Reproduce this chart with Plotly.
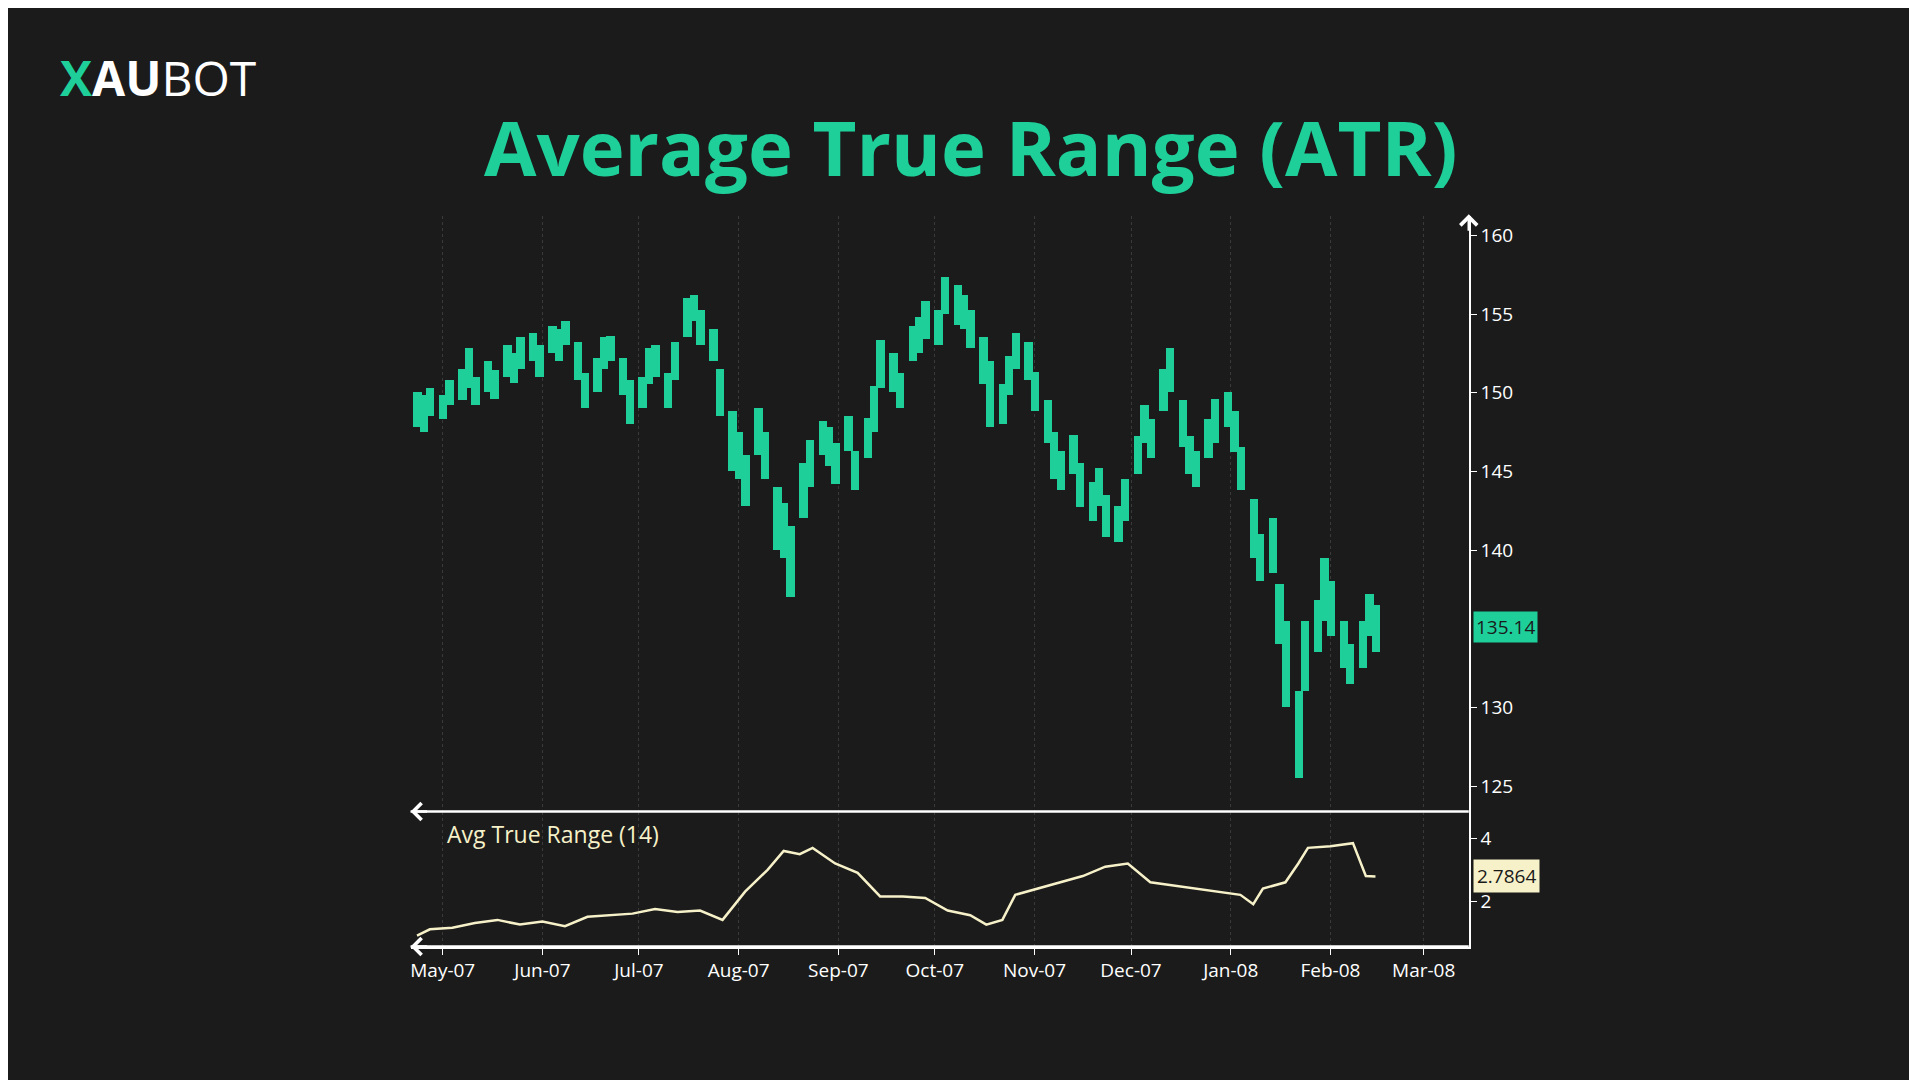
import pandas as pd
import plotly.graph_objects as go

lows = [147.8,147.5,148.5,
 148.3,149.2,149.5,150.3,149.2,150,149.6,151,150.6,151.5,152,
 151,152.5,152,153,150.8,149,150,151.5,152,149.8,
 148,149,150.5,151,149,150.8,153.5,154.5,153,152,148.5,
 145,144.5,142.8,146,144.5,140,139.5,137,142,144,146,145.3,
 144.2,146.3,143.8,145.8,147.5,150.3,150,149,152,152.5,
 153.4,153,155,154.3,154,152.8,150.5,147.8,148,149.8,151.5,150.8,
 148.8,146.8,144.5,143.8,144.8,142.7,141.8,142.8,140.8,140.5,141.8,
 144.8,146.8,145.8,148.8,150,146.5,144.8,144,145.8,146.8,
 147.8,146.2,143.8,139.5,138,138.5,134,130,125.5,131,133.5,
 135.5,134.5,132.5,131.5,132.5,134.5,133.5]
highs = [150,149.8,150.3,
 149.8,150.8,151.5,152.8,151,152,151.4,153,152.5,153.5,153.8,
 153,154.2,154,154.5,153.2,151.2,152.2,153.5,153.6,152.2,
 150.8,151,152.8,153,151.2,153.2,156,156.2,155.2,154,151.5,
 148.8,147.5,146,149,147.5,144,143,141.5,145.5,147,148.2,147.8,
 146.8,148.5,146.3,148.4,150.4,153.3,152.5,151.2,154.2,154.8,
 155.8,155.2,157.3,156.8,156.2,155.2,153.5,152,150.5,152.3,153.8,153.2,
 151.3,149.5,147.5,146.3,147.3,145.5,144.3,145.2,143.5,142.8,144.5,
 147.2,149.2,148.3,151.5,152.8,149.5,147.2,146.3,148.3,149.6,
 150,148.8,146.5,143.2,141,142,137.8,135.5,131,135.5,136.8,
 139.5,138,135.5,134,135.5,137.2,136.5]
last_price = 135.14

atr_dates = ["2007-04-23","2007-04-27","2007-05-04","2007-05-11","2007-05-18","2007-05-25",
 "2007-06-01","2007-06-08","2007-06-15","2007-06-22","2007-06-29","2007-07-06","2007-07-13",
 "2007-07-20","2007-07-27","2007-08-03","2007-08-10","2007-08-15","2007-08-20","2007-08-24",
 "2007-08-31","2007-09-07","2007-09-14","2007-09-21","2007-09-28","2007-10-05","2007-10-12",
 "2007-10-17","2007-10-22","2007-10-26","2007-11-02","2007-11-09","2007-11-16","2007-11-23",
 "2007-11-30","2007-12-07","2007-12-14","2007-12-21","2007-12-28","2008-01-04","2008-01-08",
 "2008-01-11","2008-01-18","2008-01-22","2008-01-25","2008-02-01","2008-02-08","2008-02-12","2008-02-15"]
atr_vals = [0.9,1.1,1.15,1.3,1.4,1.25,1.35,1.2,1.5,1.55,1.6,1.75,1.65,1.7,1.4,2.3,3.0,3.6,3.5,3.7,
 3.2,2.9,2.15,2.15,2.1,1.7,1.55,1.25,1.4,2.2,2.4,2.6,2.8,3.1,3.2,2.6,2.5,2.4,2.3,2.2,1.9,
 2.4,2.6,3.2,3.7,3.75,3.85,2.8,2.7864]

price_ticks = [125, 130, 140, 145, 150, 155, 160]
month_ticks = ["2007-05-01","2007-06-01","2007-07-01","2007-08-01","2007-09-01","2007-10-01",
 "2007-11-01","2007-12-01","2008-01-01","2008-02-01","2008-03-01"]
month_labels = ["May-07","Jun-07","Jul-07","Aug-07","Sep-07","Oct-07","Nov-07","Dec-07","Jan-08","Feb-08","Mar-08"]

dates = pd.bdate_range("2007-04-23", periods=len(lows), freq="2B")
GREEN = "#1ecf9a"
CREAM = "#f6f1c8"

fig = go.Figure()
fig.add_trace(go.Bar(x=dates, base=lows, y=[h - l for h, l in zip(highs, lows)],
                     marker=dict(color=GREEN, line=dict(width=0)), width=2.6 * 86400000,
                     xaxis="x", yaxis="y", showlegend=False))
fig.add_trace(go.Scatter(x=pd.to_datetime(atr_dates), y=atr_vals, mode="lines",
                         line=dict(color=CREAM, width=2.5), xaxis="x2", yaxis="y2", showlegend=False))

xr = ["2007-04-21", "2008-03-15"]
fnt = dict(family="Open Sans", size=19, color="white")
fig.update_layout(
    width=1917, height=1080, margin=dict(l=0, r=0, t=0, b=0),
    paper_bgcolor="#1b1b1b", plot_bgcolor="rgba(0,0,0,0)", bargap=0,
    font=fnt,
    xaxis=dict(domain=[0.21, 0.762], range=xr, anchor="y", showticklabels=False,
               tickvals=month_ticks, showgrid=True, gridcolor="#3a3a3a", griddash="dot",
               zeroline=False, showline=False),
    yaxis=dict(domain=[0.256, 0.807], range=[123.4, 161.2], side="right", anchor="x",
               tickvals=price_ticks, ticks="outside", ticklen=6,
               tickcolor="white", showline=True, linecolor="white", linewidth=2,
               showgrid=False, zeroline=False, tickfont=fnt),
    xaxis2=dict(domain=[0.21, 0.762], range=xr, anchor="y2", tickvals=month_ticks,
                ticktext=month_labels, ticks="outside", ticklen=6, tickcolor="white",
                showline=True, linecolor="white", linewidth=2, showgrid=True,
                gridcolor="#3a3a3a", griddash="dot", zeroline=False, tickfont=fnt),
    yaxis2=dict(domain=[0.131, 0.256], range=[0.55, 4.86], side="right", anchor="x2",
                tickvals=[2, 4], ticks="outside", ticklen=6, tickcolor="white",
                showline=True, linecolor="white", linewidth=2, showgrid=False,
                zeroline=False, tickfont=fnt),
)
fig.add_shape(type="line", xref="paper", yref="paper", x0=0.21, x1=0.762, y0=0.256, y1=0.256,
              line=dict(color="white", width=2.5))
fig.add_shape(type="line", xref="paper", yref="paper", x0=0.21, x1=0.762, y0=0.131, y1=0.131,
              line=dict(color="white", width=2.5))
for (x, y, ax, ay) in [(0.21, 0.256, 18, 0), (0.21, 0.131, 18, 0), (0.762, 0.809, 0, 18)]:
    fig.add_annotation(xref="paper", yref="paper", x=x, y=y, ax=ax, ay=ay, axref="pixel", ayref="pixel",
                       showarrow=True, arrowhead=4, arrowsize=1.3, arrowwidth=2.5, arrowcolor="white", text="")
fig.add_annotation(xref="paper", yref="y", x=0.764, y=last_price, text=f"{last_price:.2f}", showarrow=False,
                   xanchor="left", yanchor="middle", bgcolor=GREEN,
                   font=dict(family="Open Sans", size=19, color="#1a1a1a"), borderpad=2)
fig.add_annotation(xref="paper", yref="y2", x=0.764, y=atr_vals[-1], text=f"{atr_vals[-1]:.4f}", showarrow=False,
                   xanchor="left", yanchor="middle", bgcolor=CREAM,
                   font=dict(family="Open Sans", size=19, color="#1a1a1a"), borderpad=3)
fig.add_annotation(xref="paper", yref="paper", x=0.228, y=0.252, text="Avg True Range (14)", showarrow=False,
                   xanchor="left", yanchor="top", font=dict(family="Open Sans", size=23, color=CREAM))
fig.add_annotation(xref="paper", yref="paper", x=0.502, y=0.872, text="<b>Average True Range (ATR)</b>",
                   showarrow=False, xanchor="center", yanchor="middle",
                   font=dict(family="Open Sans", size=76, color=GREEN))
fig.add_annotation(xref="paper", yref="paper", x=0.026, y=0.936, text="<b><span style='color:#1ecf9a'>X</span>AU</b>BOT",
                   showarrow=False, xanchor="left", yanchor="middle",
                   font=dict(family="Open Sans", size=48, color="white"))
fig.write_html("out.html")
